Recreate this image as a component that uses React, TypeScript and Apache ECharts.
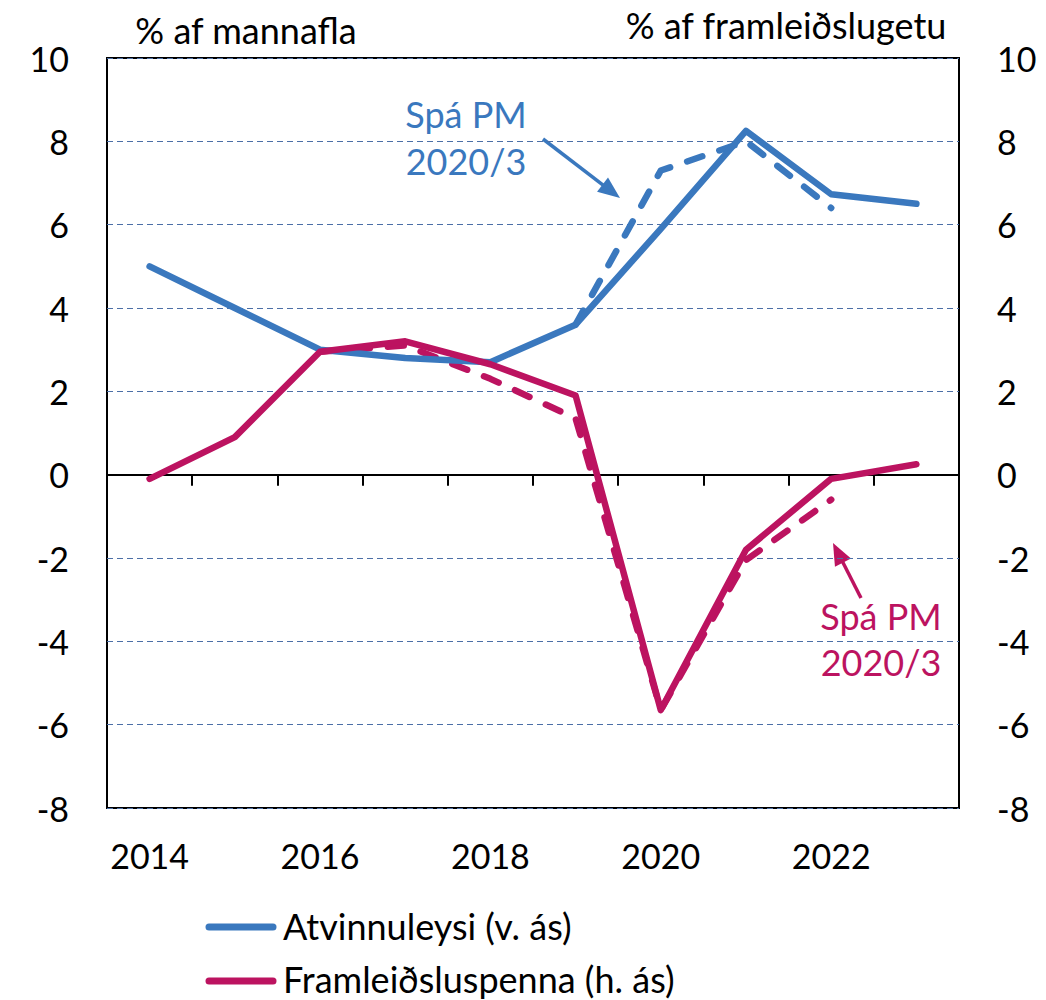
import React, { useEffect, useRef } from "react";
import * as echarts from "echarts";

const years = ["2014", "2015", "2016", "2017", "2018", "2019", "2020", "2021", "2022", "2023"];
const unemployment = [5.0, 4.0, 3.0, 2.8, 2.7, 3.6, 5.9, 8.25, 6.73, 6.5];
const unemploymentForecast = [null, null, null, null, null, 3.6, 7.3, 8.0, 6.4, null];
const outputGap = [-0.1, 0.9, 2.95, 3.2, 2.65, 1.9, -5.65, -1.8, -0.1, 0.25];
const outputGapForecast = [null, null, 2.95, 3.1, 2.3, 1.35, -5.65, -2.05, -0.6, null];
const yMin = -8;
const yMax = 10;
const yStep = 2;

const BLUE = "#3A78BE";
const RED = "#BC1360";
const GRID = "#4C6FA6";
const FONT = "Lato";
const FS = 34;
const FS_TEXT = 36;

function arrow(x1: number, y1: number, x2: number, y2: number, color: string) {
  const dx = x2 - x1;
  const dy = y2 - y1;
  const len = Math.sqrt(dx * dx + dy * dy);
  const ux = dx / len;
  const uy = dy / len;
  const head = 22;
  const half = 9;
  const bx = x2 - ux * head;
  const by = y2 - uy * head;
  return [
    {
      type: "line",
      shape: { x1, y1, x2: bx + ux * 4, y2: by + uy * 4 },
      style: { stroke: color, lineWidth: 3.5 },
    },
    {
      type: "polygon",
      shape: {
        points: [
          [x2, y2],
          [bx - uy * half, by + ux * half],
          [bx + uy * half, by - ux * half],
        ],
      },
      style: { fill: color },
    },
  ];
}

function text(x: number, y: number, t: string, color: string, align = "left", size = FS_TEXT) {
  return {
    type: "text",
    x,
    y,
    style: {
      text: t,
      fill: color,
      fontSize: size,
      fontFamily: FONT,
      align,
      verticalAlign: "middle",
    },
  };
}

export default function App() {
  const ref = useRef<HTMLDivElement>(null);
  useEffect(() => {
    document.body.style.margin = "0";
    const chart = echarts.init(ref.current!, null, { renderer: "svg" });
    const labelStyle = { fontSize: FS, fontFamily: FONT, color: "#000" };
    chart.setOption({
      animation: false,
      backgroundColor: "#fff",
      grid: {
        left: 107,
        top: 58,
        width: 852,
        height: 750,
        show: true,
        borderColor: "#000",
        borderWidth: 2,
        containLabel: false,
        outerBoundsMode: "none",
      },
      xAxis: [
        {
          type: "category",
          data: years,
          position: "bottom",
          boundaryGap: true,
          axisLine: { show: false, onZero: false },
          axisTick: { show: false },
          axisLabel: { ...labelStyle, interval: 1, margin: 30 },
          splitLine: { show: false },
        },
        {
          type: "category",
          data: years,
          position: "top",
          boundaryGap: true,
          axisLine: { show: true, onZero: true, onZeroAxisIndex: 0, lineStyle: { color: "#000", width: 2 } },
          axisTick: { show: true, inside: true, length: 11, interval: 0, lineStyle: { color: "#000", width: 2 } },
          axisLabel: { show: false },
          splitLine: { show: false },
        },
      ],
      yAxis: [
        {
          type: "value",
          position: "left",
          min: yMin,
          max: yMax,
          interval: yStep,
          axisLine: { show: false },
          axisTick: { show: false },
          axisLabel: { ...labelStyle, margin: 38 },
          splitLine: { show: true, lineStyle: { color: GRID, width: 1, type: [6, 4] } },
        },
        {
          type: "value",
          position: "right",
          min: yMin,
          max: yMax,
          interval: yStep,
          axisLine: { show: false },
          axisTick: { show: false },
          axisLabel: { ...labelStyle, margin: 38 },
          splitLine: { show: false },
        },
      ],
      series: [
        {
          name: "Atvinnuleysi spá",
          type: "line",
          data: unemploymentForecast,
          yAxisIndex: 0,
          symbol: "none",
          lineStyle: { color: BLUE, width: 6.5, type: [16, 18], cap: "round", join: "round" },
          z: 3,
        },
        {
          name: "Framleiðsluspenna spá",
          type: "line",
          data: outputGapForecast,
          yAxisIndex: 1,
          symbol: "none",
          lineStyle: { color: RED, width: 6.5, type: [16, 18], cap: "round", join: "round" },
          z: 3,
        },
        {
          name: "Atvinnuleysi (v. ás)",
          type: "line",
          data: unemployment,
          yAxisIndex: 0,
          symbol: "none",
          lineStyle: { color: BLUE, width: 6.5, cap: "round", join: "round" },
          z: 4,
        },
        {
          name: "Framleiðsluspenna (h. ás)",
          type: "line",
          data: outputGap,
          yAxisIndex: 1,
          symbol: "none",
          lineStyle: { color: RED, width: 6.5, cap: "round", join: "round" },
          z: 4,
        },
      ],
      graphic: [
        text(246, 30, "% af mannafla", "#000", "center"),
        text(786, 25, "% af framleiðslugetu", "#000", "center"),
        text(466, 114, "Spá PM", BLUE, "center"),
        text(466, 161, "2020/3", BLUE, "center"),
        ...arrow(543, 139, 620, 198, BLUE),
        text(881, 616, "Spá PM", RED, "center"),
        text(881, 662, "2020/3", RED, "center"),
        ...arrow(861, 598, 833, 543, RED),
        {
          type: "line",
          shape: { x1: 209, y1: 927, x2: 273, y2: 927 },
          style: { stroke: BLUE, lineWidth: 7, lineCap: "round" },
        },
        text(283, 926, "Atvinnuleysi (v. ás)", "#000"),
        {
          type: "line",
          shape: { x1: 209, y1: 981, x2: 273, y2: 981 },
          style: { stroke: RED, lineWidth: 7, lineCap: "round" },
        },
        text(283, 979, "Framleiðsluspenna (h. ás)", "#000"),
      ],
    });
    return () => chart.dispose();
  }, []);
  return <div ref={ref} style={{ width: 1046, height: 1000 }} />;
}
